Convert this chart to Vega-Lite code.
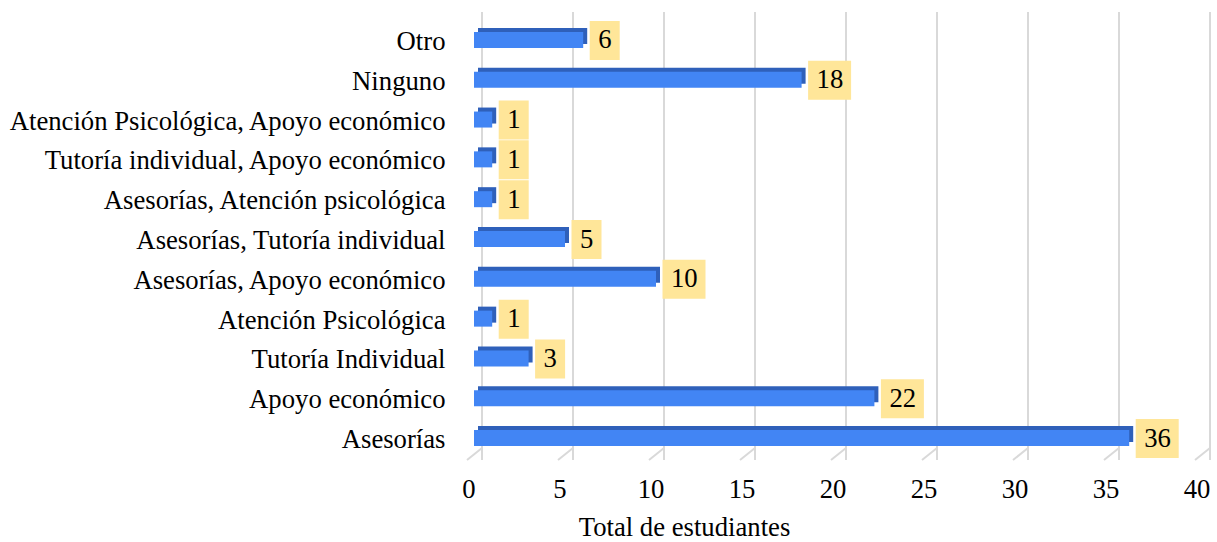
{
  "$schema": "https://vega.github.io/schema/vega-lite/v6.json",
  "width": 728,
  "height": 438,
  "autosize": {"type": "none"},
  "padding": {"left": 474, "top": 22, "right": 15, "bottom": 82},
  "background": "white",
  "config": {"view": {"stroke": null}, "font": "Liberation Serif"},
  "datasets": {
    "survey": [
      {"categoria": "Otro", "total": 6},
      {"categoria": "Ninguno", "total": 18},
      {"categoria": "Atención Psicológica, Apoyo económico", "total": 1},
      {"categoria": "Tutoría individual, Apoyo económico", "total": 1},
      {"categoria": "Asesorías, Atención psicológica", "total": 1},
      {"categoria": "Asesorías, Tutoría individual", "total": 5},
      {"categoria": "Asesorías, Apoyo económico", "total": 10},
      {"categoria": "Atención Psicológica", "total": 1},
      {"categoria": "Tutoría Individual", "total": 3},
      {"categoria": "Apoyo económico", "total": 22},
      {"categoria": "Asesorías", "total": 36}
    ],
    "ticks": [{"v": 0}, {"v": 5}, {"v": 10}, {"v": 15}, {"v": 20}, {"v": 25}, {"v": 30}, {"v": 35}, {"v": 40}]
  },
  "layer": [
    {
      "data": {"name": "ticks"},
      "mark": {"type": "rule", "color": "#D9D9D9", "strokeWidth": 2, "xOffset": 8, "yOffset": -10},
      "encoding": {
        "x": {"field": "v", "type": "quantitative", "title": "Total de estudiantes"}
      }
    },
    {
      "data": {"name": "ticks"},
      "mark": {"type": "rule", "color": "#D9D9D9", "strokeWidth": 2, "xOffset": 8, "x2Offset": -7, "yOffset": -12, "y2Offset": 0},
      "encoding": {
        "x": {"field": "v", "type": "quantitative", "title": "Total de estudiantes"},
        "x2": {"field": "v"},
        "y": {"datum": 0, "type": "quantitative", "scale": {"domain": [0, 1]}, "axis": null},
        "y2": {"datum": 0}
      }
    },
    {
      "data": {"name": "survey"},
      "encoding": {
        "y": {
          "field": "categoria",
          "type": "nominal",
          "sort": null,
          "title": null,
          "scale": {"paddingInner": 0, "paddingOuter": 0},
          "axis": {
            "ticks": false,
            "domain": false,
            "grid": false,
            "labelFontSize": 26.7,
            "labelFont": "Liberation Serif",
            "labelColor": "#000000",
            "labelPadding": 29,
            "labelLimit": 700
          }
        },
        "x": {
          "field": "total",
          "type": "quantitative",
          "title": "Total de estudiantes",
          "scale": {"domain": [0, 40], "nice": false, "zero": true},
          "axis": {
            "values": [0, 5, 10, 15, 20, 25, 30, 35, 40],
            "grid": false,
            "ticks": false,
            "domain": false,
            "labelFlush": false,
            "labelFontSize": 26.7,
            "labelFont": "Liberation Serif",
            "labelColor": "#000000",
            "labelPadding": 16,
            "labelOffset": -5.5,
            "titleFontSize": 26.7,
            "titleFont": "Liberation Serif",
            "titleFontWeight": "normal",
            "titleColor": "#000000",
            "titleX": 210,
            "titleY": 75,
            "titleAlign": "center",
            "titleBaseline": "alphabetic"
          }
        }
      },
      "layer": [
        {
          "mark": {"type": "bar", "color": "#2F60BA", "size": 16, "xOffset": 4, "yOffset": -6}
        },
        {
          "mark": {"type": "bar", "color": "#4285F4", "size": 16, "yOffset": -2}
        },
        {
          "transform": [{"filter": "datum.total < 10"}],
          "mark": {"type": "bar", "color": "#FFE699", "size": 39, "xOffset": 6.5, "x2Offset": 36.5, "yOffset": -1.5},
          "encoding": {"x2": {"field": "total"}}
        },
        {
          "transform": [{"filter": "datum.total >= 10"}],
          "mark": {"type": "bar", "color": "#FFE699", "size": 39, "xOffset": 6.5, "x2Offset": 49.5, "yOffset": -1.5},
          "encoding": {"x2": {"field": "total"}}
        },
        {
          "mark": {"type": "text", "align": "left", "baseline": "middle", "dx": 15, "dy": -1.5, "fontSize": 26.7, "font": "Liberation Serif", "color": "#000000"},
          "encoding": {"text": {"field": "total", "type": "quantitative"}}
        }
      ]
    }
  ],
  "resolve": {"scale": {"y": "independent"}}
}
